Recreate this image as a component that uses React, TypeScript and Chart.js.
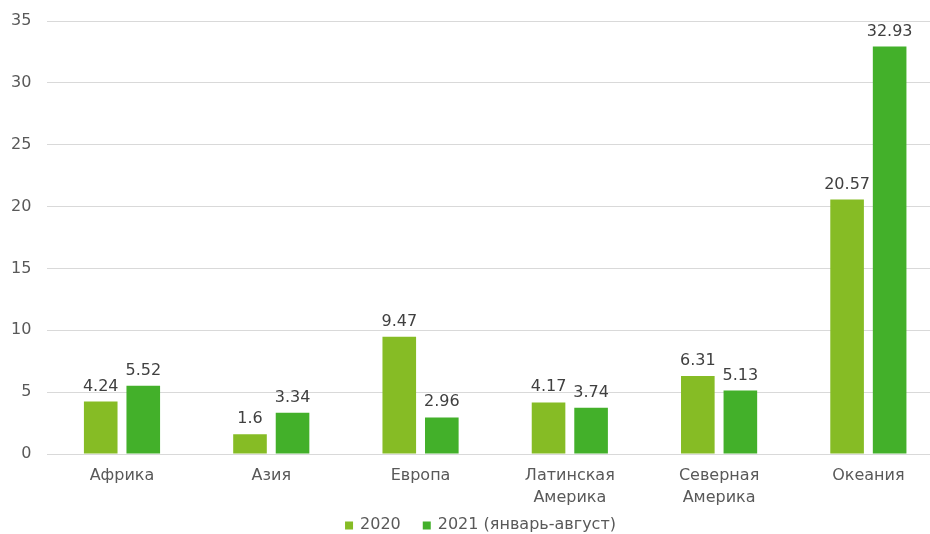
import React, { useEffect, useRef } from "react";
import { Chart, registerables } from "chart.js";

Chart.register(...registerables);

const categories: (string | string[])[] = [
  "Африка",
  "Азия",
  "Европа",
  ["Латинская", "Америка"],
  ["Северная", "Америка"],
  "Океания",
];
const series2020 = [4.24, 1.6, 9.47, 4.17, 6.31, 20.57];
const series2021 = [5.52, 3.34, 2.96, 3.74, 5.13, 32.93];
const seriesNames = ["2020", "2021 (январь-август)"];
const seriesColors = ["#86BC25", "#43B02A"];
const FONT = "'DejaVu Sans', Verdana, sans-serif";

const valueLabels = {
  id: "valueLabels",
  afterDatasetsDraw(chart: any) {
    const ctx = chart.ctx;
    ctx.save();
    ctx.font = `16px ${FONT}`;
    ctx.fillStyle = "#404040";
    ctx.textAlign = "center";
    ctx.textBaseline = "alphabetic";
    chart.data.datasets.forEach((ds: any, i: number) => {
      const meta = chart.getDatasetMeta(i);
      meta.data.forEach((bar: any, j: number) => {
        ctx.fillText(String(ds.data[j]), bar.x, bar.y - 11);
      });
    });
    ctx.restore();
  },
};

const bottomLegend = {
  id: "bottomLegend",
  afterDraw(chart: any) {
    const ctx = chart.ctx;
    const box = 8;
    const gapText = 7;
    const gapItem = 22;
    ctx.save();
    ctx.font = `16px ${FONT}`;
    ctx.textBaseline = "middle";
    ctx.textAlign = "left";
    const items = chart.data.datasets.map((ds: any) => ({
      text: ds.label,
      color: ds.backgroundColor,
      w: box + gapText + ctx.measureText(ds.label).width,
    }));
    const total = items.reduce((s: number, it: any) => s + it.w, 0) + gapItem * (items.length - 1);
    const cy = chart.height - 9.5;
    let x = chart.width / 2 + 9 - total / 2;
    items.forEach((it: any) => {
      ctx.fillStyle = it.color;
      ctx.fillRect(x, cy - box / 2 + 1, box, box);
      ctx.fillStyle = "#595959";
      ctx.fillText(it.text, x + box + gapText, cy);
      x += it.w + gapItem;
    });
    ctx.restore();
  },
};

export default function App() {
  const ref = useRef<HTMLCanvasElement>(null);
  useEffect(() => {
    const chart = new Chart(ref.current!, {
      type: "bar",
      data: {
        labels: categories,
        datasets: [
          {
            label: seriesNames[0],
            data: series2020,
            backgroundColor: seriesColors[0],
            categoryPercentage: 0.57,
            barPercentage: 0.79,
          },
          {
            label: seriesNames[1],
            data: series2021,
            backgroundColor: seriesColors[1],
            categoryPercentage: 0.57,
            barPercentage: 0.79,
          },
        ],
      },
      options: {
        animation: false,
        responsive: false,
        maintainAspectRatio: false,
        layout: { padding: { top: 21, right: 0, left: 10, bottom: 22 } },
        scales: {
          x: {
            grid: { display: false },
            border: { display: false },
            ticks: { color: "#595959", font: { family: FONT, size: 16, lineHeight: 1.375 }, padding: 3 },
          },
          y: {
            min: 0,
            max: 35,
            ticks: { stepSize: 5, color: "#595959", font: { family: FONT, size: 16 }, padding: 16 },
            grid: { color: "#d9d9d9", drawTicks: false },
            border: { display: false },
            afterFit: (scale: any) => {
              scale.width -= 15;
              scale.paddingTop = 0;
              scale.paddingBottom = 0;
            },
          },
        },
        plugins: {
          legend: { display: false },
          tooltip: { enabled: false },
        },
      },
      plugins: [valueLabels, bottomLegend],
    });
    return () => chart.destroy();
  }, []);
  return (
    <div style={{ position: "absolute", left: 0, top: 0, width: 930, height: 534, overflow: "hidden", background: "#fff" }}>
      <canvas ref={ref} width={943} height={534} />
    </div>
  );
}
